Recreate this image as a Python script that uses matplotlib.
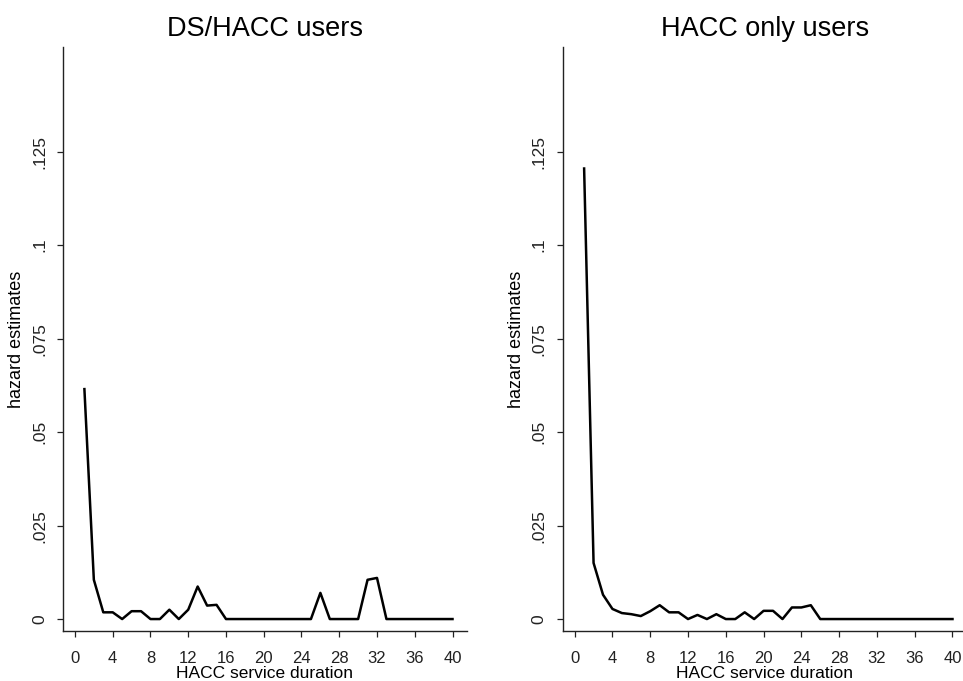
import numpy as np
import matplotlib
matplotlib.use("Agg")
import matplotlib.pyplot as plt

plt.rcParams['font.family'] = ['Liberation Sans', 'DejaVu Sans']

# service duration (months)
duration = list(range(1, 41))

# hazard estimates, DS/HACC users
hazard_ds = [0.0615, 0.0105, 0.0018, 0.0018, 0.0, 0.0021, 0.0021, 0.0, 0.0, 0.0025,
             0.0, 0.0025, 0.0087, 0.0036, 0.0038, 0.0, 0.0, 0.0, 0.0, 0.0,
             0.0, 0.0, 0.0, 0.0, 0.0, 0.0070, 0.0, 0.0, 0.0, 0.0,
             0.0105, 0.0110, 0.0, 0.0, 0.0, 0.0, 0.0, 0.0, 0.0, 0.0]

# hazard estimates, HACC only users
hazard_hacc = [0.1205, 0.0150, 0.0065, 0.0027, 0.0016, 0.0013, 0.0008, 0.0021, 0.0037, 0.0018,
               0.0018, 0.0, 0.0011, 0.0, 0.0013, 0.0, 0.0, 0.0018, 0.0, 0.0022,
               0.0022, 0.0, 0.0031, 0.0031, 0.0037, 0.0, 0.0, 0.0, 0.0, 0.0,
               0.0, 0.0, 0.0, 0.0, 0.0, 0.0, 0.0, 0.0, 0.0, 0.0]

titles = ['DS/HACC users', 'HACC only users']
xticks = list(range(0, 41, 4))
yticks = [0, 0.025, 0.05, 0.075, 0.1, 0.125]
ytick_labels = ['0', '.025', '.05', '.075', '.1', '.125']

fig = plt.figure(figsize=(9.63, 6.81), dpi=100)
ax1 = fig.add_axes([0.0654, 0.0734, 0.4192, 0.8576])
ax2 = fig.add_axes([0.5843, 0.0734, 0.4195, 0.8576])

for ax, y, title in zip([ax1, ax2], [hazard_ds, hazard_hacc], titles):
    ax.plot(duration, y, color='black', linewidth=1.8)
    ax.set_xlim(-1.27, 41.5)
    ax.set_ylim(-0.0032, 0.153)
    ax.set_xticks(xticks)
    ax.set_yticks(yticks)
    ax.set_yticklabels(ytick_labels, rotation=90, va='center')
    ax.spines['top'].set_visible(False)
    ax.spines['right'].set_visible(False)
    for s in ['left', 'bottom']:
        ax.spines[s].set_linewidth(1.0)
        ax.spines[s].set_color('#222222')
    ax.tick_params(axis='x', direction='out', length=4.5, width=0.9, pad=10, labelsize=12, colors='#222222')
    ax.tick_params(axis='y', direction='out', length=4.5, width=0.9, pad=7, labelsize=12.5, colors='#222222')
    ax.set_xlabel('HACC service duration', fontsize=12.5, labelpad=0)
    ax.set_ylabel('hazard estimates', fontsize=13)
    ax.yaxis.set_label_coords(-0.094, 0.5)
    ax.set_title(title, fontsize=19.5, pad=8)

fig.savefig('out.png', dpi=100)
